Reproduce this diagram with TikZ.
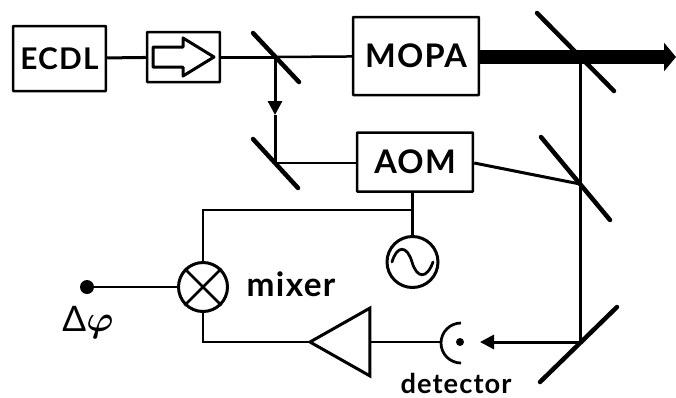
\documentclass[tikz,border=0pt]{standalone}
\usepackage{amsmath}
\usepackage{fontspec}
\setmainfont{Lato}[LetterSpace=4]
\usetikzlibrary{arrows.meta, calc, shapes.geometric}
\tikzset{>={Stealth}}
\tikzset{
	box/.style={draw, line width=.05cm, rounded corners=.3pt, inner sep=0pt, font=\bfseries\fontsize{18.5}{20}\selectfont},
	wire/.style={line width=.05cm},
	mirror/.style={line width=.09cm, line cap=round},
	round symbol/.style={draw, circle, line width=.06cm, inner sep=0pt, minimum size=.98cm},
	lab/.style={font=\bfseries\fontsize{15.5}{18}\selectfont, inner sep=0pt},
	tip/.style={-{Triangle[length=.28cm,width=.28cm]}, line width=.06cm}
}
\begin{document}
\begin{tikzpicture}[x=.02cm,y=-.02cm]
	\useasboundingbox (0,0) rectangle (676,397);

	% boxes
	\node [box, minimum width=1.86cm, minimum height=1.3cm, font=\bfseries\fontsize{17}{20}\selectfont] (ecdl) at (59.5,58.5) {ECDL};
	\node [box, minimum width=1.46cm, minimum height=1cm] (iso) at (183.5,57) {};
	\node [box, minimum width=2.52cm, minimum height=1.56cm] (mopa) at (416,56) {MOPA};
	\node [box, minimum width=2.32cm, minimum height=1.18cm] (aom) at (415,162) {AOM};
	\node [round symbol] (mix) at (203,287) {};
	\node [round symbol, minimum size=1.02cm] (osc) at (412.5,262) {};
	\node [draw, isosceles triangle, isosceles triangle apex angle=59, shape border rotate=180, line width=.06cm, minimum height=1.2cm, inner sep=0pt, outer sep=0pt, anchor=apex] (amp) at (310,342) {};
	\node [circle, fill, minimum size=.28cm, inner sep=0pt] (phase) at (87,287) {};
	\node [circle, fill, minimum size=.16cm, inner sep=0pt] (det) at (460,342) {};

	% isolator arrow
	\draw [line width=.06cm, line join=round] (153,47) -- (183,47) -- (183,38) -- (214,57) -- (183,76) -- (183,67) -- (153,67) -- cycle;

	% mirrors
	\coordinate (bsa) at (275,57);
	\coordinate (msa) at (275,163);
	\coordinate (bsb) at (580,56);
	\coordinate (bsc) at (580,184);
	\coordinate (msb) at (580,342);
	\draw [mirror] (253,33) -- (299,82);
	\draw [mirror] (253,139) -- (298,188);
	\draw [mirror] (537,13) -- (614,91);
	\draw [mirror] (541,137) -- (610,220);
	\draw [mirror] (540,382) -- (617,307);

	% beams
	\draw [wire, line width=.06cm] (ecdl) -- (iso);
	\draw [wire, line width=.06cm] (iso) -- (bsa);
	\draw [wire] (bsa) -- (mopa);
	\coordinate (dtip) at (275,115);
	\draw [tip] (bsa) -- (dtip);
	\draw [wire, line width=.06cm] (dtip) -- (msa);
	\draw [wire] (msa) -- (aom.west |- msa);
	\coordinate (out) at (676,57);
	\draw [-{Triangle[length=.24cm,width=.56cm]}, line width=.28cm] (mopa.east |- out) -- (out);
	\draw [wire, line width=.06cm] (bsb) -- (msb);
	\draw [wire, line width=.06cm] (aom.east |- msa) -- (bsc);
	\coordinate (dend) at (480,342);
	\draw [tip] (msb) -- (dend);

	% electronics
	\coordinate (top) at (203,210);
	\draw [wire] (aom.south -| osc) -- (osc);
	\draw [wire] (mix) -- (top) -- (top -| osc);
	\draw [wire] (phase) -- (mix);
	\draw [wire] (mix) |- (amp.apex);
	\coordinate (dback) at (441,342);
	\draw [wire] (amp.east |- dback) -- (dback);
	\draw [line width=.055cm] (461,323) arc [start angle=270, end angle=90, radius=20];

	% mixer cross and sine
	\draw [line width=.05cm] (mix.45) -- (mix.225) (mix.135) -- (mix.315);
	\draw [line width=.055cm, line cap=round] (392,262) .. controls (397,245) and (407,245) .. (412,262) .. controls (417,279) and (427,279) .. (433,262);

	% labels
	\node [lab, font=\bfseries\fontsize{19}{22}\selectfont] (mixlab) at (291,284) {mixer};
	\node [lab, anchor=base] (detlab) at (456,393) {detector};
	\node [font=\fontsize{20}{22}\selectfont, inner sep=0pt] (phaselab) at (88,322) {Δ$\boldsymbol{\varphi}$};
\end{tikzpicture}
\end{document}
